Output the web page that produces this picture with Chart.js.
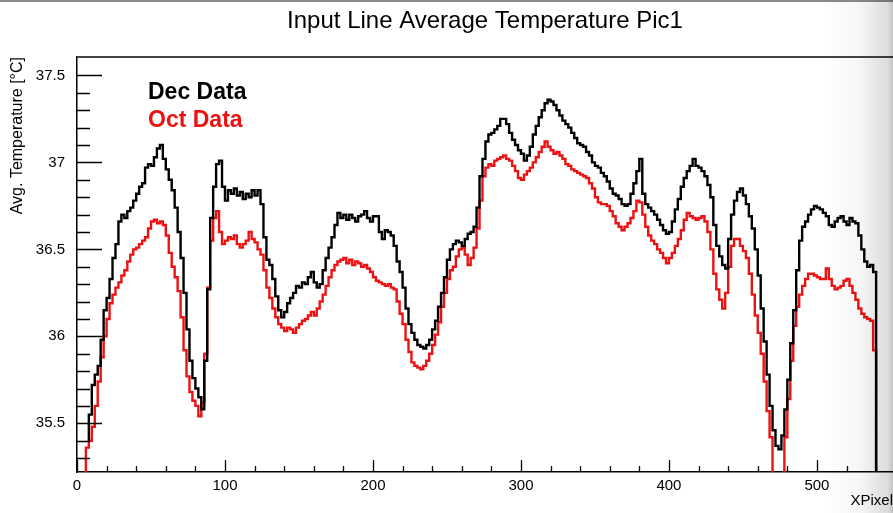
<!DOCTYPE html>
<html>
<head>
<meta charset="utf-8">
<title>Input Line Average Temperature Pic1</title>
<script src="https://cdn.jsdelivr.net/npm/chart.js@4.4.1/dist/chart.umd.min.js"></script>
<style>
    html, body { margin: 0; padding: 0; background: #fff; overflow: hidden; }
    #wrap { position: relative; width: 893px; height: 513px; }
    #topEdge { position: absolute; left: 0; top: 0; width: 893px; height: 2px; background: #8a8a8a; }
    #shade {
        position: absolute; top: 0; right: 0; width: 70px; height: 513px; pointer-events: none;
        background: linear-gradient(to right, rgba(0,0,0,0) 0%, rgba(0,0,0,0.04) 55%, rgba(0,0,0,0.14) 93%, rgba(0,0,0,0.24) 100%);
    }
</style>
</head>
<body>
<div id="wrap">
    <canvas id="tempChart" width="893" height="513"></canvas>
    <div id="topEdge"></div>
    <div id="shade"></div>
</div>
<script>
/* =========================
   DATOS
========================= */
const chartTitle = "Input Line Average Temperature Pic1";

// bin low edge (XPixel)
const xPixel = [
    6, 8, 10, 12, 14, 16, 18, 20, 22, 24, 26, 28, 30, 32, 34, 36, 38, 40, 42, 44, 46, 48, 50, 52, 54, 56, 58, 60,
    62, 64, 66, 68, 70, 72, 74, 76, 78, 80, 82, 84, 86, 88, 90, 92, 94, 96, 98, 100, 102, 104, 106, 108, 110,
    112, 114, 116, 118, 120, 122, 124, 126, 128, 130, 132, 134, 136, 138, 140, 142, 144, 146, 148, 150, 152,
    154, 156, 158, 160, 162, 164, 166, 168, 170, 172, 174, 176, 178, 180, 182, 184, 186, 188, 190, 192, 194,
    196, 198, 200, 202, 204, 206, 208, 210, 212, 214, 216, 218, 220, 222, 224, 226, 228, 230, 232, 234, 236,
    238, 240, 242, 244, 246, 248, 250, 252, 254, 256, 258, 260, 262, 264, 266, 268, 270, 272, 274, 276, 278,
    280, 282, 284, 286, 288, 290, 292, 294, 296, 298, 300, 302, 304, 306, 308, 310, 312, 314, 316, 318, 320,
    322, 324, 326, 328, 330, 332, 334, 336, 338, 340, 342, 344, 346, 348, 350, 352, 354, 356, 358, 360, 362,
    364, 366, 368, 370, 372, 374, 376, 378, 380, 382, 384, 386, 388, 390, 392, 394, 396, 398, 400, 402, 404,
    406, 408, 410, 412, 414, 416, 418, 420, 422, 424, 426, 428, 430, 432, 434, 436, 438, 440, 442, 444, 446,
    448, 450, 452, 454, 456, 458, 460, 462, 464, 466, 468, 470, 472, 474, 476, 478, 480, 482, 484, 486, 488,
    490, 492, 494, 496, 498, 500, 502, 504, 506, 508, 510, 512, 514, 516, 518, 520, 522, 524, 526, 528, 530,
    532, 534, 536, 538, 540, 542
];

// Dec Data, average temperature [°C]
const decTemp = [
    null, 35.40, 35.55, 35.72, 35.78, 35.83, 35.98, 36.15, 36.22, 36.33, 36.45, 36.53, 36.66, 36.70, 36.68, 36.72,
    36.74, 36.78, 36.82, 36.86, 36.88, 36.97, 36.99, 36.98, 37.03, 37.08, 37.10, 37.02,
    36.96, 36.90, 36.84, 36.74, 36.60, 36.45, 36.25, 36.04, 35.86, 35.76, 35.70, 35.65, 35.58, 35.86, 36.27,
    36.68, 36.86, 36.99, 37.01, 36.86, 36.78, 36.84, 36.82, 36.85, 36.81,
    36.83, 36.79, 36.82, 36.80, 36.84, 36.81, 36.84, 36.76, 36.57, 36.44, 36.41, 36.33, 36.23, 36.15, 36.11,
    36.14, 36.19, 36.22, 36.25, 36.29, 36.28,
    36.31, 36.30, 36.34, 36.37, 36.31, 36.28, 36.30, 36.38, 36.45, 36.51, 36.57, 36.64, 36.71, 36.68, 36.70,
    36.67, 36.70, 36.68, 36.66, 36.69, 36.70,
    36.72, 36.68, 36.66, 36.69, 36.69, 36.60, 36.56, 36.61, 36.60, 36.58, 36.52, 36.43, 36.37, 36.28, 36.16,
    36.07, 36.02, 35.98, 35.95, 35.94, 35.93,
    35.95, 35.98, 36.04, 36.09, 36.17, 36.25, 36.34, 36.44, 36.50, 36.53, 36.55, 36.54, 36.52, 36.56, 36.59,
    36.60, 36.63, 36.74, 36.92, 37.02, 37.12,
    37.16, 37.17, 37.19, 37.21, 37.25, 37.25, 37.22, 37.17, 37.13, 37.10, 37.07, 37.05, 37.01, 37.04, 37.09,
    37.16, 37.21, 37.26, 37.30, 37.34, 37.36,
    37.35, 37.33, 37.30, 37.27, 37.24, 37.22, 37.20, 37.17, 37.14, 37.11, 37.10, 37.09, 37.06, 37.04, 37.00,
    36.98, 36.97, 36.94, 36.92, 36.89, 36.85,
    36.82, 36.81, 36.79, 36.76, 36.75, 36.76, 36.82, 36.88, 36.95, 37.02, 36.82, 36.76, 36.74, 36.72, 36.70,
    36.67, 36.64, 36.61, 36.59, 36.60, 36.66,
    36.73, 36.79, 36.86, 36.91, 36.95, 36.98, 37.02, 36.98, 36.97, 36.95, 36.92, 36.87, 36.80, 36.64, 36.52,
    36.46, 36.41, 36.39, 36.56, 36.70, 36.78,
    36.83, 36.85, 36.81, 36.76, 36.69, 36.62, 36.50, 36.35, 36.16, 35.97, 35.78, 35.60, 35.46, 35.37, 35.35,
    35.43, 35.58, 35.75, 35.96, 36.15, 36.38,
    36.55, 36.63, 36.66, 36.70, 36.73, 36.75, 36.74, 36.73, 36.71, 36.69, 36.64, 36.63, 36.66, 36.68, 36.69,
    36.66, 36.64, 36.68, 36.66, 36.65, 36.58,
    36.50, 36.43, 36.40, 36.41, 36.37, 35.00
];

// Oct Data, average temperature [°C]
const octTemp = [
    35.00, 35.36, 35.40, 35.48, 35.60, 35.74, 35.88, 36.00, 36.10, 36.19, 36.24, 36.28, 36.31, 36.35, 36.38, 36.43,
    36.47, 36.50, 36.51, 36.53, 36.55, 36.57, 36.62, 36.66, 36.67, 36.65, 36.66, 36.64,
    36.58, 36.48, 36.40, 36.34, 36.26, 36.11, 35.92, 35.77, 35.68, 35.63, 35.60, 35.54, 35.62, 35.90, 36.28,
    36.55, 36.68, 36.72, 36.60, 36.53, 36.55, 36.57, 36.56, 36.58, 36.53,
    36.51, 36.53, 36.55, 36.60, 36.56, 36.54, 36.50, 36.47, 36.38, 36.28, 36.22, 36.16, 36.11, 36.07, 36.05,
    36.03, 36.05, 36.04, 36.02, 36.05, 36.07,
    36.09, 36.10, 36.12, 36.14, 36.12, 36.16, 36.20, 36.24, 36.29, 36.34, 36.38, 36.41, 36.43, 36.44, 36.45,
    36.42, 36.44, 36.41, 36.43, 36.42, 36.40,
    36.41, 36.39, 36.37, 36.34, 36.32, 36.31, 36.30, 36.29, 36.30, 36.28, 36.27, 36.20, 36.13, 36.07, 35.98,
    35.91, 35.85, 35.83, 35.82, 35.81, 35.83,
    35.86, 35.90, 35.95, 36.01, 36.08, 36.17, 36.25, 36.33, 36.38, 36.40, 36.46, 36.50, 36.51, 36.47, 36.41,
    36.45, 36.51, 36.62, 36.78, 36.92, 36.97,
    36.99, 36.98, 37.01, 37.02, 37.03, 37.04, 37.02, 37.01, 36.98, 36.95, 36.91, 36.90, 36.93, 36.95, 36.97,
    37.00, 37.03, 37.06, 37.09, 37.12, 37.09,
    37.07, 37.05, 37.06, 37.04, 37.02, 36.99, 36.98, 36.96, 36.95, 36.94, 36.93, 36.92, 36.91, 36.88, 36.85,
    36.80, 36.77, 36.76, 36.76, 36.75, 36.72,
    36.69, 36.65, 36.63, 36.61, 36.63, 36.65, 36.68, 36.72, 36.78, 36.77, 36.70, 36.63, 36.58, 36.55, 36.53,
    36.50, 36.48, 36.45, 36.42, 36.45, 36.48,
    36.52, 36.56, 36.61, 36.67, 36.71, 36.69, 36.68, 36.67, 36.68, 36.69, 36.66, 36.60, 36.50, 36.36, 36.27,
    36.21, 36.16, 36.25, 36.40, 36.52, 36.56,
    36.56, 36.52, 36.49, 36.45, 36.36, 36.24, 36.12, 36.02, 35.90, 35.74, 35.57, 35.42, 35.15, 35.10, 35.12,
    35.20, 35.42, 35.64, 35.86, 36.06, 36.17,
    36.24, 36.29, 36.33, 36.36, 36.36, 36.35, 36.34, 36.33, 36.33, 36.39, 36.33, 36.29, 36.27, 36.28, 36.29,
    36.32, 36.33, 36.29, 36.25, 36.21, 36.16,
    36.13, 36.11, 36.10, 36.09, 35.92, 35.00
];

// ejes
const xRange = [0, 551.4];
const yRange = [35.22, 37.606];
const xTicks = [0, 100, 200, 300, 400, 500];
const yTicks = [35.5, 36, 36.5, 37, 37.5];

/* =========================
   CONFIGURACIÓN GLOBAL
========================= */
const FONT = "'Liberation Sans', Arial, Helvetica, sans-serif";
Chart.defaults.font.family = FONT;
Chart.defaults.color = "#000";

/* =========================
   MARCO, TICKS, TITULO, LEYENDA
========================= */
const rootFrame = {
    id: "rootFrame",
    beforeDraw(chart) {
        const ctx = chart.ctx;
        ctx.save();
        ctx.fillStyle = "#fff";
        ctx.fillRect(0, 0, chart.width, chart.height);
        ctx.restore();
    },
    afterDraw(chart) {
        const { ctx, chartArea: a, scales: { x, y } } = chart;
        ctx.save();

        // frame top
        ctx.strokeStyle = "#444";
        ctx.lineWidth = 2;
        ctx.beginPath();
        ctx.moveTo(a.left, a.top);
        ctx.lineTo(a.right, a.top);
        ctx.stroke();

        // ticks hacia dentro
        ctx.strokeStyle = "#000";
        ctx.lineWidth = 1.3;
        ctx.beginPath();
        for (let k = 0; k * 20 <= x.max; k++) {
            const v = k * 20;
            const px = Math.round(x.getPixelForValue(v)) + 0.5;
            const len = xTicks.includes(v) ? 12 : 6;
            ctx.moveTo(px, a.bottom);
            ctx.lineTo(px, a.bottom - len);
        }
        for (let k = 1; 35.2 + k * 0.1 < y.max - 0.02; k++) {
            const v = Math.round((35.2 + k * 0.1) * 10) / 10;
            const py = Math.round(y.getPixelForValue(v)) + 0.5;
            const len = yTicks.includes(v) ? 25 : 13;
            ctx.moveTo(a.left, py);
            ctx.lineTo(a.left + len, py);
        }
        ctx.stroke();

        // title
        ctx.fillStyle = "#000";
        ctx.font = "24px " + FONT;
        ctx.textAlign = "center";
        ctx.textBaseline = "middle";
        ctx.fillText(chartTitle, (a.left + a.right) / 2, 21);

        // leyenda
        ctx.font = "bold 23px " + FONT;
        ctx.textAlign = "left";
        chart.data.datasets.forEach((ds, i) => {
            ctx.fillStyle = ds.borderColor;
            ctx.fillText(ds.label, a.left + 71, a.top + 36 + i * 28);
        });
        ctx.restore();
    }
};

/* =========================
   HISTOGRAMAS
========================= */
new Chart(document.getElementById("tempChart"), {
    type: "line",
    data: {
        datasets: [{
            label: "Dec Data",
            data: xPixel.map((x, i) => ({ x: x, y: decTemp[i] })),
            borderColor: "#000000",
            borderWidth: 2.4,
            stepped: "after",
            pointRadius: 0,
            fill: false
        }, {
            label: "Oct Data",
            data: xPixel.map((x, i) => ({ x: x, y: octTemp[i] })),
            borderColor: "#ee1111",
            borderWidth: 2.4,
            stepped: "after",
            pointRadius: 0,
            fill: false
        }]
    },
    options: {
        responsive: false,
        animation: false,
        devicePixelRatio: 1,
        layout: { padding: { top: 57, left: 0, right: 0, bottom: 0 } },
        plugins: {
            legend: { display: false },
            tooltip: { enabled: false }
        },
        scales: {
            x: {
                type: "linear",
                min: xRange[0],
                max: xRange[1],
                afterFit: s => { s.height = 41; },
                afterBuildTicks: s => { s.ticks = xTicks.map(v => ({ value: v })); },
                grid: { display: false, drawTicks: false },
                border: { display: true, color: "#000", width: 1.5 },
                ticks: { font: { size: 15 }, padding: 5, maxRotation: 0, callback: v => String(v) },
                title: {
                    display: true,
                    text: "XPixel",
                    align: "end",
                    font: { size: 15 },
                    padding: { top: 0, bottom: 3 }
                }
            },
            y: {
                min: yRange[0],
                max: yRange[1],
                afterFit: s => { s.width = 77; },
                afterBuildTicks: s => { s.ticks = yTicks.map(v => ({ value: v })); },
                grid: { display: false, drawTicks: false },
                border: { display: true, color: "#000", width: 1.5 },
                ticks: { font: { size: 15 }, padding: 12, callback: v => String(v) },
                title: {
                    display: true,
                    text: "Avg. Temperature [°C]",
                    align: "end",
                    font: { size: 16 },
                    padding: { top: 8, bottom: 0 }
                }
            }
        }
    },
    plugins: [rootFrame]
});
</script>
</body>
</html>
